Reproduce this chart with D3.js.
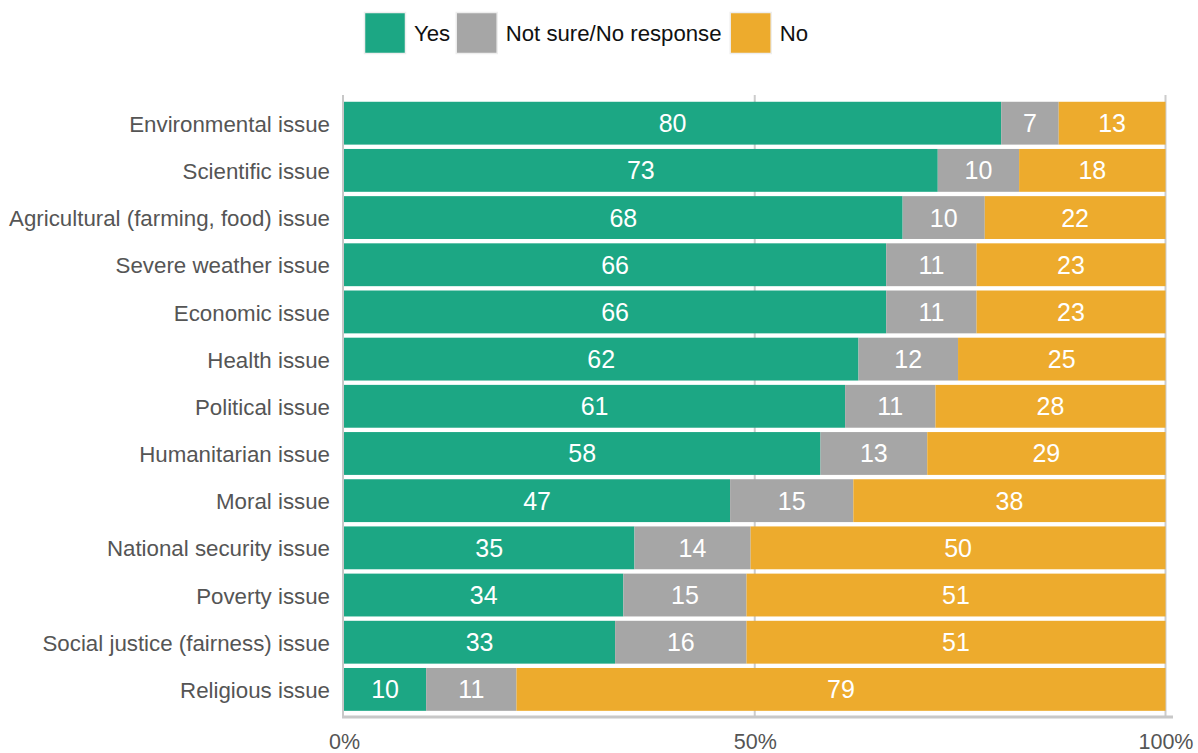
<!DOCTYPE html>
<html><head><meta charset="utf-8">
<script src="https://cdn.jsdelivr.net/npm/d3@7"></script>
<style>body{margin:0;background:#fff}svg{display:block;font-family:"Liberation Sans",Arial,sans-serif}</style>
</head><body><svg id="c" width="1198" height="753"></svg>
<script>
const categories = ["Environmental issue","Scientific issue","Agricultural (farming, food) issue","Severe weather issue","Economic issue","Health issue","Political issue","Humanitarian issue","Moral issue","National security issue","Poverty issue","Social justice (fairness) issue","Religious issue"];
const seriesNames = ["Yes","Not sure/No response","No"];
const yesValues = [80,73,68,66,66,62,61,58,47,35,34,33,10];
const notSureValues = [7,10,10,11,11,12,11,13,15,14,15,16,11];
const noValues = [13,18,22,23,23,25,28,29,38,50,51,51,79];
const tickLabels = ["0%","50%","100%"];
const colors = ["#1ca784","#a6a6a6","#edab2d"];

const svg = d3.select("#c");
const m = {left:344, right:1165.5, top:99.6, bottom:713};
const x = d3.scaleLinear().domain([0,1]).range([m.left,m.right]);
const y = d3.scaleBand().domain(categories).range([m.top,m.bottom]).paddingInner(0.092).paddingOuter(0.046);

const rows = categories.map((c,i)=>{
  const vals=[yesValues[i],notSureValues[i],noValues[i]];
  const tot=d3.sum(vals); let acc=0;
  return vals.map((v,k)=>{const s={cat:c,k,v,x0:acc/tot,x1:(acc+v)/tot};acc+=v;return s;});
});

// gridlines
svg.append("g").selectAll("line").data([0.5,1]).join("line")
  .attr("x1",d=>x(d)).attr("x2",d=>x(d)).attr("y1",95).attr("y2",717)
  .attr("stroke","#cccccc").attr("stroke-width",2);

const segs = rows.flat();
svg.append("g").selectAll("rect").data(segs).join("rect")
  .attr("x",d=>x(d.x0)).attr("width",d=>x(d.x1)-x(d.x0))
  .attr("y",d=>y(d.cat)).attr("height",y.bandwidth())
  .attr("fill",d=>colors[d.k]);

svg.append("g").selectAll("text").data(segs).join("text")
  .attr("x",d=>(x(d.x0)+x(d.x1))/2).attr("y",d=>y(d.cat)+y.bandwidth()/2)
  .attr("dy","0.36em").attr("text-anchor","middle")
  .attr("fill","#fff").attr("font-size",25).text(d=>d.v);

// y axis
const ya = svg.append("g").attr("transform",`translate(${m.left-1},1.5)`)
  .call(d3.axisLeft(y).tickSize(0).tickPadding(13));
ya.select(".domain").attr("d",`M0,93.5V715.5`).attr("stroke","#c8c8c8").attr("stroke-width",2);
ya.selectAll("text").attr("font-size",22.3).attr("fill","#555").attr("font-family","Liberation Sans, Arial, sans-serif");

// x axis
const xa = svg.append("g").attr("transform",`translate(0,717)`)
  .call(d3.axisBottom(x).tickValues([0,0.5,1]).tickFormat((d,i)=>tickLabels[i]).tickSize(0).tickPadding(17));
xa.select(".domain").attr("d",`M${m.left-2},0H1173`).attr("stroke","#c8c8c8").attr("stroke-width",3);
xa.selectAll("text").attr("font-size",21.5).attr("fill","#555").attr("font-family","Liberation Sans, Arial, sans-serif");

// legend
const legX = [365,456.7,730.7];
const lg = svg.append("g").selectAll("g").data(seriesNames).join("g")
  .attr("transform",(d,i)=>`translate(${legX[i]},13)`);
lg.append("rect").attr("x",-0.5).attr("y",-0.5).attr("width",41).attr("height",41).attr("fill",(d,i)=>colors[i]).attr("stroke","#eeeeee").attr("stroke-width",1.5);
lg.append("text").attr("x",49).attr("y",20).attr("dy","0.36em").attr("font-size",22.2).attr("fill","#111").text(d=>d);
</script></body></html>
